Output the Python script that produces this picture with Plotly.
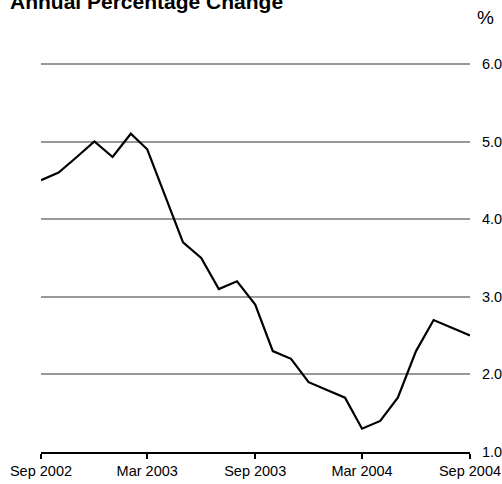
import plotly.graph_objects as go

months = ["2002-09-01", "2002-10-01", "2002-11-01", "2002-12-01", "2003-01-01",
          "2003-02-01", "2003-03-01", "2003-04-01", "2003-05-01", "2003-06-01",
          "2003-07-01", "2003-08-01", "2003-09-01", "2003-10-01", "2003-11-01",
          "2003-12-01", "2004-01-01", "2004-02-01", "2004-03-01", "2004-04-01",
          "2004-05-01", "2004-06-01", "2004-07-01", "2004-08-01", "2004-09-01"]
values = [4.5, 4.6, 4.8, 5.0, 4.8, 5.1, 4.9, 4.3, 3.7, 3.5, 3.1, 3.2, 2.9,
          2.3, 2.2, 1.9, 1.8, 1.7, 1.3, 1.4, 1.7, 2.3, 2.7, 2.6, 2.5]

x_ticks = ["2002-09-01", "2003-03-01", "2003-09-01", "2004-03-01", "2004-09-01"]
x_labels = ["Sep 2002", "Mar 2003", "Sep 2003", "Mar 2004", "Sep 2004"]
y_ticks = [1.0, 2.0, 3.0, 4.0, 5.0, 6.0]

FONT = "Liberation Sans, Arial, Helvetica, sans-serif"

L, R, T, B = 41, 32, 60, 32
PW = 502 - L - R
PH = 484 - T - B

fig = go.Figure()
fig.add_trace(go.Scatter(x=months, y=values, mode="lines",
                         line=dict(color="black", width=2.2), hoverinfo="skip"))

fig.update_layout(
    width=502, height=484,
    margin=dict(l=L, r=R, t=T, b=B),
    paper_bgcolor="white", plot_bgcolor="white",
    showlegend=False,
    font=dict(family=FONT, size=14.5, color="black"),
    xaxis=dict(
        type="date", range=["2002-09-01", "2004-09-01"],
        tickvals=x_ticks, ticktext=x_labels, automargin=False,
        showgrid=False, zeroline=False,
        showline=True, linecolor="black", linewidth=2,
        ticks="outside", ticklen=5, tickwidth=2, tickcolor="black",
        tickfont=dict(family=FONT, size=14.5, color="black"),
    ),
    yaxis=dict(
        side="right", range=[1, 6.05], tickvals=y_ticks, tickformat=".1f",
        automargin=False,
        showgrid=True, gridcolor="#999999", gridwidth=2,
        zeroline=False, showline=False,
        ticks="outside", ticklen=8, tickcolor="rgba(0,0,0,0)",
        tickfont=dict(family=FONT, size=14.5, color="black"),
    ),
    annotations=[
        dict(text="<b>Annual Percentage Change</b>", xref="paper", yref="paper",
             x=(8 - L) / PW, y=1 + (T - 1) / PH, xanchor="left", yanchor="middle",
             showarrow=False, font=dict(family=FONT, size=21, color="black")),
        dict(text="%", xref="paper", yref="paper",
             x=(485 - L) / PW, y=1 + (T - 17) / PH, xanchor="center", yanchor="middle",
             showarrow=False, font=dict(family=FONT, size=19, color="black")),
    ],
)

fig.write_html("out.html",
               config={"displayModeBar": False, "staticPlot": True},
               post_script="document.body.style.margin='0';document.body.style.overflow='hidden';")
